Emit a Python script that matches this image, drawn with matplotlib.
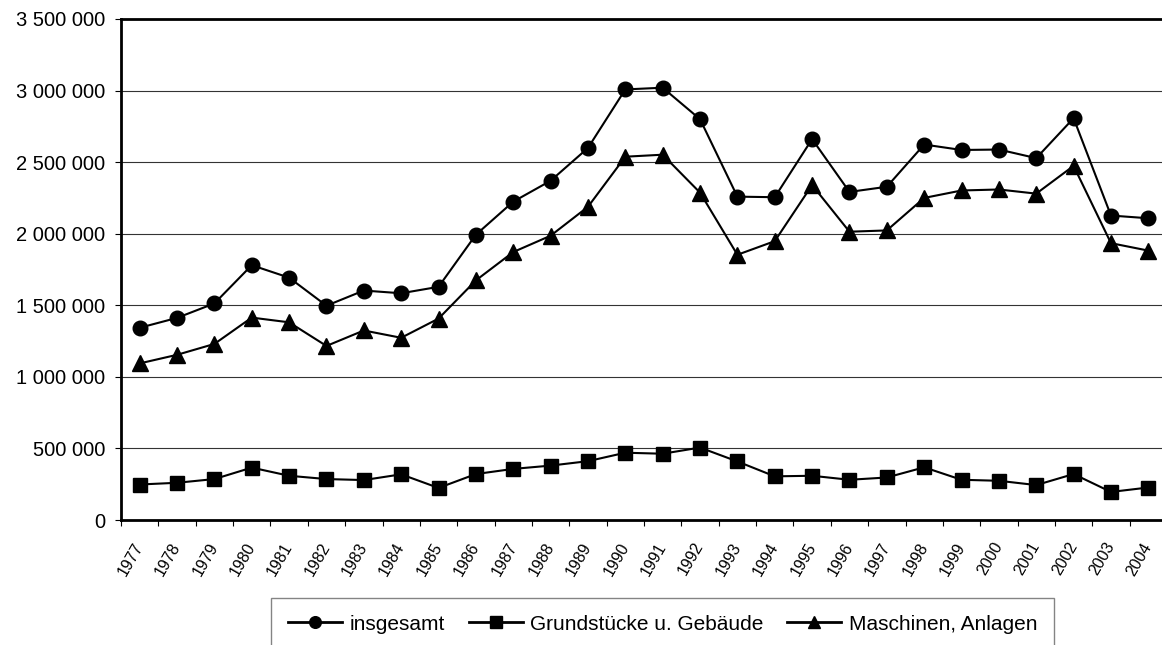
import matplotlib
matplotlib.use("Agg")
from matplotlib import pyplot as plt
from matplotlib.ticker import FuncFormatter
import matplotlib.transforms as mtransforms
import numpy as np

plt.rcParams["font.family"] = ["Liberation Sans", "DejaVu Sans"]

years = [str(y) for y in range(1977, 2005)]

insgesamt = [1343000, 1412000, 1513000, 1780000, 1693000, 1497000, 1603000, 1584000,
             1629000, 1993000, 2224000, 2370000, 2599000, 3008000, 3020000, 2800000,
             2259000, 2255000, 2661000, 2292000, 2328000, 2623000, 2585000, 2588000,
             2528000, 2807000, 2127000, 2108000]
grundstuecke = [248000, 260000, 286000, 366000, 309000, 286000, 279000, 319000,
                224000, 321000, 357000, 380000, 411000, 470000, 463000, 506000,
                409000, 305000, 309000, 281000, 297000, 368000, 281000, 274000,
                244000, 321000, 196000, 227000]
maschinen = [1094000, 1154000, 1230000, 1414000, 1381000, 1216000, 1324000, 1273000,
             1407000, 1674000, 1872000, 1986000, 2188000, 2538000, 2552000, 2287000,
             1853000, 1948000, 2340000, 2014000, 2023000, 2250000, 2302000, 2309000,
             2280000, 2474000, 1934000, 1882000]

series_names = ["insgesamt", "Grundstücke u. Gebäude", "Maschinen, Anlagen"]

W, H = 1162, 645
fig = plt.figure(figsize=(W / 100, H / 100), dpi=100)
ax = fig.add_axes([121 / W, 1 - 520 / H, (1167 - 121) / W, (520 - 19) / H])

x = np.arange(len(years))
ax.plot(x, insgesamt, color="k", linewidth=1.5, marker="o", markersize=10.5,
        label=series_names[0], clip_on=False, zorder=3)
ax.plot(x, grundstuecke, color="k", linewidth=1.5, marker="s", markersize=10,
        label=series_names[1], clip_on=False, zorder=3)
ax.plot(x, maschinen, color="k", linewidth=1.5, marker="^", markersize=11,
        label=series_names[2], clip_on=False, zorder=3)

ax.set_xlim(-0.5, len(years) - 0.5)
ax.set_ylim(0, 3500000)
ax.set_yticks(np.arange(0, 3500001, 500000))
ax.yaxis.set_major_formatter(FuncFormatter(lambda v, p: f"{int(v):,}".replace(",", " ")))
ax.yaxis.grid(True, color="#333333", linewidth=0.8)
ax.set_axisbelow(True)

# ticks on the category boundaries, labels at the centres
ax.set_xticks(np.arange(-0.5, len(years), 1.0))
ax.set_xticklabels([])
ax.set_xticks(x, minor=True)
ax.set_xticklabels(years, minor=True, rotation=60, ha="right", va="center",
                   rotation_mode="anchor", fontsize=11.5)
shift = mtransforms.ScaledTranslation(2 / 100, 0, fig.dpi_scale_trans)
for lbl in ax.get_xticklabels(minor=True):
    lbl.set_transform(lbl.get_transform() + shift)
ax.tick_params(axis="x", which="minor", length=0, pad=17)
ax.tick_params(axis="x", which="major", length=4, width=0.8, direction="out")
ax.tick_params(axis="y", length=4.5, width=0.8, direction="out", labelsize=14.5, pad=7)

for side in ["left", "bottom", "top"]:
    ax.spines[side].set_linewidth(2)
    ax.spines[side].set_color("k")
ax.spines["right"].set_visible(False)

leg = ax.legend(loc="upper center", bbox_to_anchor=(662.5 / W, 1 - 598 / H),
                bbox_transform=fig.transFigure, ncol=3, frameon=True, fancybox=False,
                fontsize=15, handlelength=2.6, handletextpad=0.35, columnspacing=1.15,
                borderaxespad=0, borderpad=0.8, markerscale=0.8)
leg.get_frame().set_edgecolor("#666666")
leg.get_frame().set_linewidth(1.0)
for line in leg.get_lines():
    line.set_linewidth(2)

fig.savefig("out.png", dpi=100)
